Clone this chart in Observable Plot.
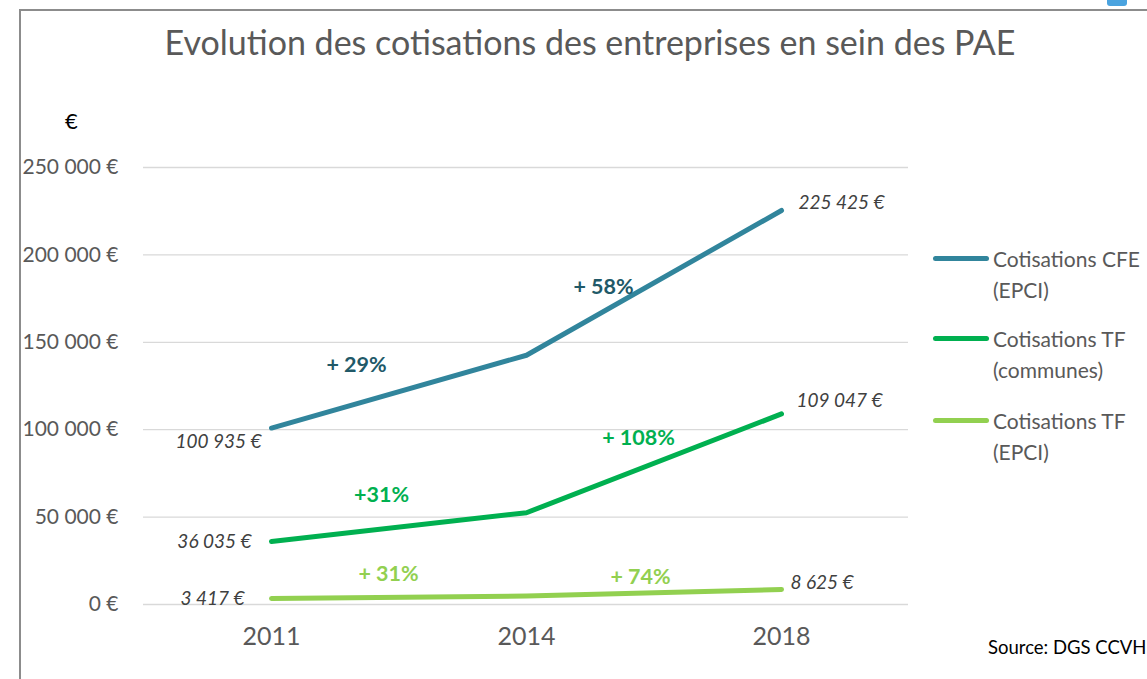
<!DOCTYPE html>
<html>
<head>
<meta charset="utf-8">
<script src="https://cdn.jsdelivr.net/npm/d3@7"></script>
<script src="https://cdn.jsdelivr.net/npm/@observablehq/plot@0.6"></script>
<style>
  html, body { margin: 0; padding: 0; background: #fff; }
  #wrap { position: relative; width: 1147px; height: 679px; overflow: hidden; font-family: Lato, "Open Sans", sans-serif; }
  #frame { position: absolute; left: 19px; top: 9px; width: 1200px; height: 700px; border-left: 2px solid #8c8c8c; border-top: 2px solid #8c8c8c; }
  #corner { position: absolute; left: 1107px; top: -4px; width: 20px; height: 10px; background: #4aa3df; border-radius: 3px; }
  #chart { position: absolute; left: 0; top: 0; }
  #title { position: absolute; left: 0; width: 1180px; top: 22px; text-align: center; font-size: 34px; color: #595959; white-space: nowrap; line-height: 1.2; }
  #unit { position: absolute; left: 65px; top: 107px; font-size: 22px; color: #000; }
  .leg { position: absolute; left: 933px; font-size: 21px; color: #595959; line-height: 31px; }
  .leg .sw { position: absolute; left: 0; top: 13px; width: 56px; height: 5px; border-radius: 3px; }
  .leg .tx { position: absolute; left: 60px; top: 0; white-space: nowrap; }
  #source { position: absolute; left: 988px; top: 636px; font-size: 18.5px; color: #000; white-space: nowrap; }
</style>
</head>
<body>
<div id="wrap">
  <div id="frame"></div>
  <div id="corner"></div>
  <div id="chart"></div>
  <div id="title"></div>
  <div id="unit">€</div>
  <div id="legend"></div>
  <div id="source"></div>
</div>
<script>
// ---- data ----
const years = ["2011", "2014", "2018"];
const seriesNames = ["Cotisations CFE (EPCI)", "Cotisations TF (communes)", "Cotisations TF (EPCI)"];
const legendLines = [["Cotisations CFE", "(EPCI)"], ["Cotisations TF", "(communes)"], ["Cotisations TF", "(EPCI)"]];
const cfeValues = [100935, 142600, 225425];
const tfCommunesValues = [36035, 52500, 109047];
const tfEpciValues = [3417, 4800, 8625];
const cfeChanges = ["+ 29%", "+ 58%"];
const tfCommunesChanges = ["+31%", "+ 108%"];
const tfEpciChanges = ["+ 31%", "+ 74%"];
const yTicks = [0, 50000, 100000, 150000, 200000, 250000];
const titleText = "Evolution des cotisations des entreprises en sein des PAE";
const sourceText = "Source: DGS CCVH";

// ---- styles ----
const colors = ["#31859c", "#00b050", "#92d050"];
const changeColors = ["#215968", "#00b050", "#92d050"];
// value label offsets per series: [first point, last point]
const valueLabelStyle = [
  [{dx: -10, dy: 14, anchor: "end"}, {dx: 17, dy: -8, anchor: "start"}],
  [{dx: -20, dy: 0, anchor: "end"}, {dx: 15, dy: -13, anchor: "start"}],
  [{dx: -27, dy: 0, anchor: "end"}, {dx: 9, dy: -7, anchor: "start"}]
];
// change label offsets from segment start point
const changeLabelStyle = [
  [{dx: 85, dy: -63}, {dx: 77, dy: -68}],
  [{dx: 110, dy: -46}, {dx: 112, dy: -75}],
  [{dx: 117, dy: -24}, {dx: 114, dy: -19}]
];

const allValues = [cfeValues, tfCommunesValues, tfEpciValues];
const allChanges = [cfeChanges, tfCommunesChanges, tfEpciChanges];

const rows = [];
allValues.forEach((vals, s) => vals.forEach((v, i) => rows.push({series: seriesNames[s], s, year: years[i], value: v})));

const fmt = v => d3.format(",")(v).replace(/,/g, " ") + " €";

const valueLabels = [];
allValues.forEach((vals, s) => {
  [0, vals.length - 1].forEach((i, k) => {
    const st = valueLabelStyle[s][k];
    valueLabels.push({year: years[i], value: vals[i], text: fmt(vals[i]), ...st});
  });
});
const changeLabels = [];
allChanges.forEach((ch, s) => ch.forEach((t, i) => {
  const st = changeLabelStyle[s][i];
  changeLabels.push({year: years[i], value: allValues[s][i], text: t, color: changeColors[s], ...st});
}));

const font = "Lato, 'Open Sans', sans-serif";

const marks = [
  Plot.ruleY(yTicks, {stroke: "#d9d9d9", strokeWidth: 1.3}),
  Plot.axisY({ticks: yTicks, tickSize: 0, tickPadding: 25, tickFormat: fmt, fontSize: 21, fill: "#595959", label: null}),
  Plot.axisX({tickSize: 0, tickPadding: 23, fontSize: 25, fill: "#595959", label: null}),
  Plot.line(rows, {x: "year", y: "value", z: "series", stroke: d => colors[d.s], strokeWidth: 5, strokeLinecap: "round", strokeLinejoin: "round"})
];
valueLabels.forEach(d => marks.push(Plot.text([d], {x: "year", y: "value", text: "text", dx: d.dx, dy: d.dy, textAnchor: d.anchor, fontSize: 19, fontStyle: "italic", fill: "#404040"})));
changeLabels.forEach(d => marks.push(Plot.text([d], {x: "year", y: "value", text: "text", dx: d.dx, dy: d.dy, textAnchor: "middle", fontSize: 21.5, fontWeight: "bold", fill: d.color})));

const chart = Plot.plot({
  width: 1147,
  height: 679,
  marginLeft: 143,
  marginRight: 239,
  marginTop: 167,
  marginBottom: 75,
  style: {fontFamily: font, background: "transparent", overflow: "visible"},
  x: {type: "point", domain: years, padding: 0.5},
  y: {domain: [0, 250000]},
  marks
});
document.getElementById("chart").appendChild(chart);

document.getElementById("title").textContent = titleText;
document.getElementById("source").textContent = sourceText;
const legendTops = [243, 323, 405];
const legend = document.getElementById("legend");
legendLines.forEach((lines, s) => {
  const item = document.createElement("div");
  item.className = "leg";
  item.style.top = legendTops[s] + "px";
  const sw = document.createElement("div");
  sw.className = "sw";
  sw.style.background = colors[s];
  const tx = document.createElement("div");
  tx.className = "tx";
  tx.innerHTML = lines.join("<br>");
  item.appendChild(sw);
  item.appendChild(tx);
  legend.appendChild(item);
});
</script>
</body>
</html>
